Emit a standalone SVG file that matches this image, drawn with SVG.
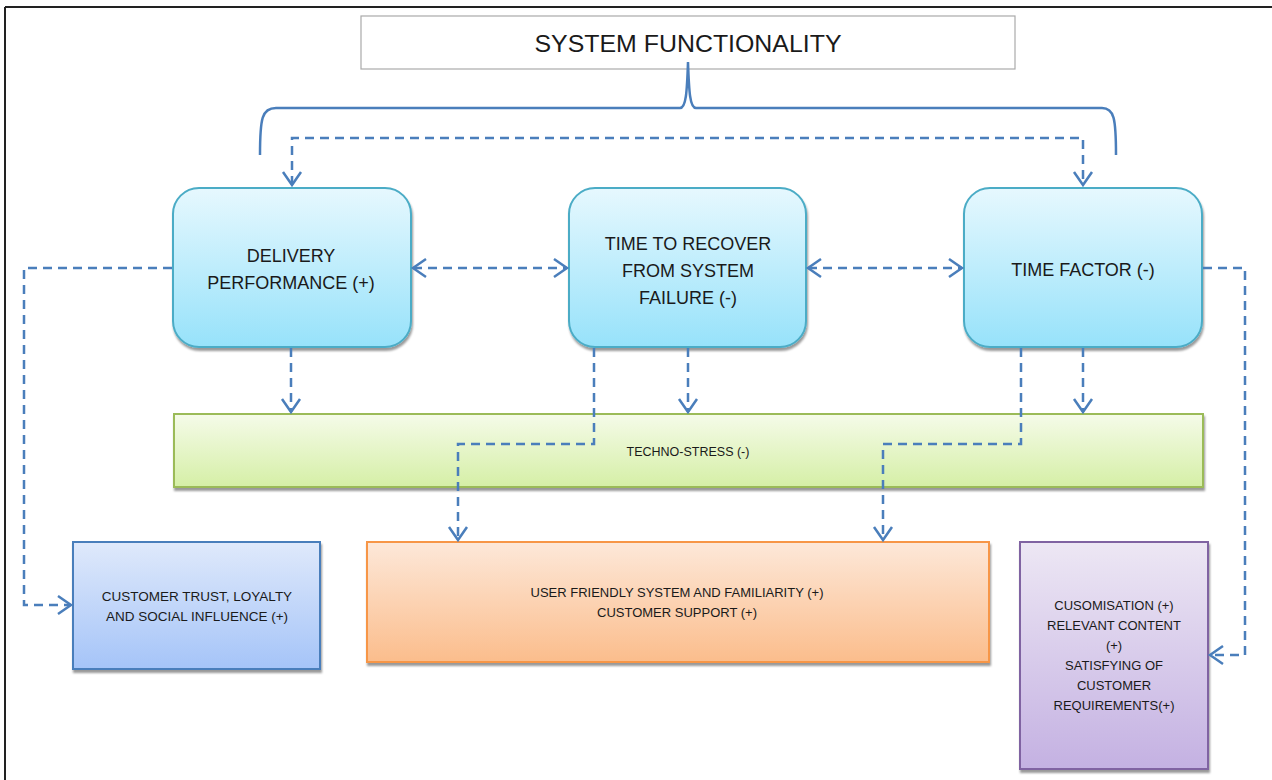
<svg xmlns="http://www.w3.org/2000/svg" width="1272" height="780" viewBox="0 0 1272 780">
<style>
.t{font-family:"Liberation Sans",Arial,sans-serif;fill:#1a1a1a;text-anchor:middle}
.c{fill:none;stroke:#4a7ebb;stroke-width:2.5;stroke-dasharray:9 6}
.rb{fill:url(#gc);stroke:#4bacc6;stroke-width:2;filter:url(#sh)}
</style>
<defs>
<linearGradient id="gc" x1="0" y1="0" x2="0" y2="1"><stop offset="0" stop-color="#e6f8fe"/><stop offset="1" stop-color="#97e2fa"/></linearGradient>
<linearGradient id="gb" x1="0" y1="0" x2="0" y2="1"><stop offset="0" stop-color="#dfe9fb"/><stop offset="1" stop-color="#a5c4f8"/></linearGradient>
<linearGradient id="go" x1="0" y1="0" x2="0" y2="1"><stop offset="0" stop-color="#fde8d9"/><stop offset="1" stop-color="#fbbd8c"/></linearGradient>
<linearGradient id="gp" x1="0" y1="0" x2="0" y2="1"><stop offset="0" stop-color="#ede7f4"/><stop offset="1" stop-color="#c4b1e2"/></linearGradient>
<linearGradient id="gg" x1="0" y1="0" x2="0" y2="1"><stop offset="0" stop-color="#f5fbe9"/><stop offset="1" stop-color="#d5efa6"/></linearGradient>
<filter id="sh" x="-10%" y="-10%" width="120%" height="130%"><feDropShadow dx="1" dy="3" stdDeviation="1.2" flood-color="#000" flood-opacity="0.4"/></filter>
<marker id="ah" markerUnits="userSpaceOnUse" markerWidth="24" markerHeight="24" viewBox="-15 -12 17 24" refX="0" refY="0" orient="auto-start-reverse"><path d="M-13,-9 L0,0 L-13,9" fill="none" stroke="#4a7ebb" stroke-width="2.5"/></marker>
</defs>
<rect x="0" y="0" width="1272" height="780" fill="#fff"/>
<path d="M5,7 H1272 M5,7 V780" fill="none" stroke="#222" stroke-width="2"/>

<g id="title">
<rect x="361" y="16" width="654" height="53" fill="#fff" stroke="#aaa" stroke-width="1.2"/>
<text class="t" x="688" y="52" font-size="24" textLength="307" lengthAdjust="spacingAndGlyphs">SYSTEM FUNCTIONALITY</text>
</g>

<g id="brace">
<path d="M260,155 C260,118 262,108 276,108 L680,108 C686,108 687,92 688,62 C689,92 690,108 696,108 L1102,108 C1114,108 1116,118 1116,155" fill="none" stroke="#4a7ebb" stroke-width="2.5"/>
</g>

<g id="delivery">
<rect class="rb" x="173" y="188" width="238" height="159" rx="26"/>
<text class="t" x="291" y="262" font-size="18">DELIVERY</text>
<text class="t" x="291" y="289" font-size="18">PERFORMANCE (+)</text>
</g>
<g id="recover">
<rect class="rb" x="569" y="188" width="237" height="159" rx="26"/>
<text class="t" x="688" y="250" font-size="18">TIME TO RECOVER</text>
<text class="t" x="688" y="277" font-size="18">FROM SYSTEM</text>
<text class="t" x="688" y="304" font-size="18">FAILURE (-)</text>
</g>
<g id="timefactor">
<rect class="rb" x="964" y="188" width="238" height="159" rx="26"/>
<text class="t" x="1083" y="276" font-size="18">TIME FACTOR (-)</text>
</g>

<g id="techno">
<rect x="174" y="414" width="1029" height="73" fill="url(#gg)" stroke="#9bbb59" stroke-width="2" filter="url(#sh)"/>
<text class="t" x="688" y="456" font-size="12.5">TECHNO-STRESS (-)</text>
</g>

<g id="trust">
<rect x="73" y="542" width="247" height="127" fill="url(#gb)" stroke="#4a7ebb" stroke-width="2" filter="url(#sh)"/>
<text class="t" x="197" y="601" font-size="13.5">CUSTOMER TRUST, LOYALTY</text>
<text class="t" x="197" y="621" font-size="13.5">AND SOCIAL INFLUENCE (+)</text>
</g>

<g id="userfriendly">
<rect x="367" y="542" width="622" height="120" fill="url(#go)" stroke="#f79646" stroke-width="2" filter="url(#sh)"/>
<text class="t" x="677" y="597" font-size="13">USER FRIENDLY SYSTEM AND FAMILIARITY (+)</text>
<text class="t" x="677" y="617" font-size="13">CUSTOMER SUPPORT (+)</text>
</g>

<g id="custom">
<rect x="1020" y="542" width="188" height="227" fill="url(#gp)" stroke="#8064a2" stroke-width="2" filter="url(#sh)"/>
<text class="t" x="1114" y="610" font-size="13">CUSOMISATION (+)</text>
<text class="t" x="1114" y="630" font-size="13">RELEVANT CONTENT</text>
<text class="t" x="1114" y="650" font-size="13">(+)</text>
<text class="t" x="1114" y="670" font-size="13">SATISFYING OF</text>
<text class="t" x="1114" y="690" font-size="13">CUSTOMER</text>
<text class="t" x="1114" y="710" font-size="13">REQUIREMENTS(+)</text>
</g>

<g id="connectors">
<path class="c" d="M292,185 V138 H1083 V185" marker-start="url(#ah)" marker-end="url(#ah)"/>
<path class="c" d="M413,268 H567" marker-start="url(#ah)" marker-end="url(#ah)"/>
<path class="c" d="M808,268 H962" marker-start="url(#ah)" marker-end="url(#ah)"/>
<path class="c" d="M172,268 H24 V605 H71" marker-end="url(#ah)"/>
<path class="c" d="M1203,268 H1245 V655 H1210" marker-end="url(#ah)"/>
<path class="c" d="M291,348 V412" marker-end="url(#ah)"/>
<path class="c" d="M688,348 V412" marker-end="url(#ah)"/>
<path class="c" d="M1083,348 V412" marker-end="url(#ah)"/>
<path class="c" d="M594,348 V444 H458 V540" marker-end="url(#ah)"/>
<path class="c" d="M1021,348 V444 H883 V540" marker-end="url(#ah)"/>
</g>
</svg>
